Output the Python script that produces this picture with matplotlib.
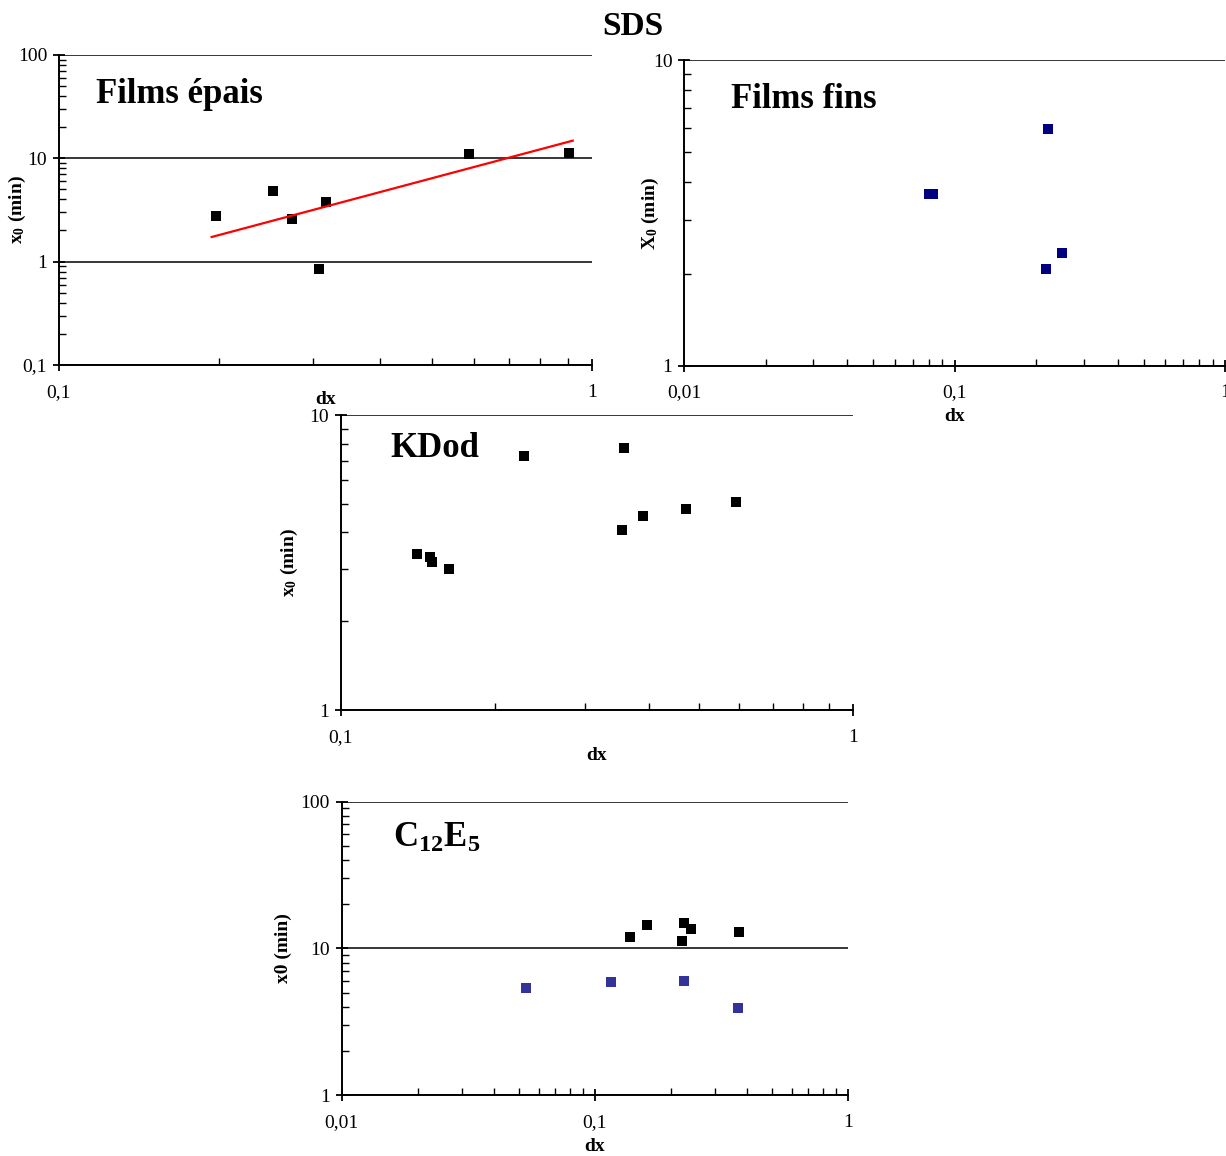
import matplotlib
matplotlib.use('Agg')
import matplotlib.pyplot as plt
from matplotlib.ticker import LogLocator, NullFormatter, FuncFormatter

plt.rcParams['font.family'] = ['Liberation Serif', 'DejaVu Serif']
plt.rcParams['mathtext.fontset'] = 'custom'
plt.rcParams['mathtext.rm'] = 'Liberation Serif'
plt.rcParams['mathtext.bf'] = 'Liberation Serif:bold'
plt.rcParams['mathtext.it'] = 'Liberation Serif:italic'

# Films epais (SDS)
epais_dx = [0.197, 0.252, 0.274, 0.308, 0.317, 0.588, 0.904]
epais_x0 = [2.79, 4.86, 2.59, 0.855, 3.81, 11.1, 11.3]
fit_dx = [0.1934, 0.920]
fit_x0 = [1.73, 14.8]

# Films fins (SDS)
fins_dx = [0.0803, 0.0830, 0.2205, 0.249, 0.217]
fins_x0 = [3.65, 3.65, 5.96, 2.33, 2.08]

# KDod
kdod_dx = [0.1408, 0.149, 0.1508, 0.1626, 0.2279, 0.357, 0.3537, 0.3888, 0.473, 0.592]
kdod_x0 = [3.37, 3.29, 3.18, 3.01, 7.26, 7.75, 4.07, 4.54, 4.81, 5.06]

# C12E5
c12_dx_a = [0.1379, 0.1614, 0.2248, 0.241, 0.2214, 0.3718]
c12_x0_a = [12.0, 14.5, 15.0, 13.5, 11.2, 13.0]
c12_dx_b = [0.0534, 0.1157, 0.226, 0.3684]
c12_x0_b = [5.41, 5.91, 6.0, 3.93]


def comma_fmt(v, pos):
    return ('%g' % v).replace('.', ',')


def setup_axes(ax, xlim, ylim, ylabel, xlab_y, ylab_x, title, tpos):
    ax.set_xscale('log')
    ax.set_yscale('log')
    ax.set_xlim(xlim)
    ax.set_ylim(ylim)
    for s in ['top', 'right']:
        ax.spines[s].set_visible(False)
    for s in ['left', 'bottom']:
        ax.spines[s].set_linewidth(1.4)
    ax.xaxis.set_major_locator(LogLocator(base=10, numticks=10))
    ax.yaxis.set_major_locator(LogLocator(base=10, numticks=10))
    ax.xaxis.set_minor_locator(LogLocator(base=10, subs=range(2, 10), numticks=20))
    ax.yaxis.set_minor_locator(LogLocator(base=10, subs=range(2, 10), numticks=20))
    ax.xaxis.set_major_formatter(FuncFormatter(comma_fmt))
    ax.yaxis.set_major_formatter(FuncFormatter(comma_fmt))
    ax.xaxis.set_minor_formatter(NullFormatter())
    ax.yaxis.set_minor_formatter(NullFormatter())
    ax.tick_params(which='major', direction='inout', length=9, width=1.3, labelsize=14)
    ax.tick_params(which='minor', direction='in', length=5, width=1)
    ax.tick_params(axis='x', which='major', pad=9)
    ax.tick_params(axis='y', which='major', pad=4)
    ax.yaxis.grid(True, which='major', color='black', lw=1.1)
    ax.set_axisbelow(True)
    ax.set_xlabel('dx', fontsize=14, fontweight='bold', va='center')
    ax.xaxis.set_label_coords(0.5, xlab_y)
    ax.set_ylabel(ylabel, fontsize=14, fontweight='bold', va='center')
    ax.yaxis.set_label_coords(ylab_x, 0.5)
    ax.text(tpos[0], tpos[1], title, transform=ax.transAxes, fontsize=25,
            fontweight='bold', ha='left', va='center')


fig = plt.figure(figsize=(12.26, 11.56), dpi=100)

ax1 = fig.add_axes([0.0481, 0.6843, 0.4348, 0.2682])
setup_axes(ax1, (0.1, 1), (0.1, 100), r'$\mathbf{x_0}$ (min)', -0.113, -0.077,
           'Films épais', (0.069, 0.871))
ax1.plot(epais_dx, epais_x0, 's', color='black', ms=6.5, mew=0, clip_on=False)
ax1.plot(fit_dx, fit_x0, '-', color='#ff0000', lw=1.6)

ax2 = fig.add_axes([0.5582, 0.6837, 0.4413, 0.2642])
setup_axes(ax2, (0.01, 1), (1, 10), r'$\mathbf{X_0}$ (min)', -0.165, -0.063,
           'Films fins', (0.086, 0.873))
ax2.plot(fins_dx, fins_x0, 's', color='#000080', ms=7, mew=0)

ax3 = fig.add_axes([0.2781, 0.3858, 0.4174, 0.2552])
setup_axes(ax3, (0.1, 1), (1, 10), r'$\mathbf{x_0}$ (min)', -0.153, -0.1,
           'KDod', (0.096, 0.885))
ax3.plot(kdod_dx, kdod_x0, 's', color='black', ms=6.8, mew=0)

ax4 = fig.add_axes([0.2787, 0.0525, 0.4127, 0.254])
setup_axes(ax4, (0.01, 1), (1, 100), 'x0 (min)', -0.176, -0.116,
           r'$\mathbf{C_{12}E_5}$', (0.101, 0.876))
ax4.plot(c12_dx_a, c12_x0_a, 's', color='black', ms=7, mew=0)
ax4.plot(c12_dx_b, c12_x0_b, 's', color='#333399', ms=7, mew=0)

fig.text(0.516, 0.977, 'SDS', fontsize=24, fontweight='bold', ha='center', va='center')

fig.savefig('out.png', dpi=100)
